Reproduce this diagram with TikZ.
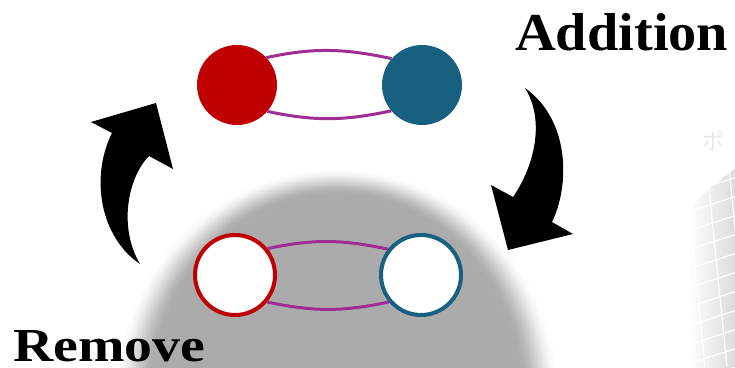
\documentclass[tikz,border=0pt]{standalone}
\usepackage{fontspec}
\setmainfont{Liberation Serif}
\newfontfamily\jpfont{Noto Sans CJK JP}

\definecolor{nodered}{HTML}{C00000}
\definecolor{nodeblue}{HTML}{17607F}
\definecolor{linkpurple}{HTML}{A02C96}
\definecolor{domegray}{HTML}{ABABAB}

\tikzset{
  solidnode/.style={circle, minimum size=80pt, inner sep=0pt},
  ringnode/.style={circle, minimum size=80pt, inner sep=0pt, fill=white, line width=4pt},
  link/.style={draw=linkpurple, line width=3pt},
  bigarrow/.style={fill=black},
  wordlabel/.style={inner sep=0pt, anchor=base west, font=\bfseries},
}

\begin{document}
\begin{tikzpicture}[x=1pt,y=1pt]
\useasboundingbox (0,0) rectangle (735,367);

% grey dome with a soft edge: nested ellipses from light to dark
\foreach \k in {40,39,...,0} {
  \pgfmathsetmacro\s{\k/40}
  \pgfmathsetmacro\p{100*(1-(3*\s*\s-2*\s*\s*\s))}
  \fill[domegray!\p!white] (337,-33) ellipse ({184+\k} and {205+0.68*\k});
}

% faint globe at the right edge
\begin{scope}
  \clip (950,-103) circle (370);
  \clip (680,0) rectangle (735,367);
  \shade[left color=white, right color=gray!28] (688,0) rectangle (735,367);
  \foreach \x in {668,690,...,790}
    \draw[white, line width=1.2pt] (\x,367) -- (\x+37,0);
  \foreach \y in {-60,-41,...,320}
    \draw[white, line width=1.2pt] (670,\y) -- (740,\y+23);
\end{scope}
\node[anchor=west, inner sep=0pt, text=gray!18, font=\jpfont\fontsize{22}{22}\selectfont] (jp) at (702,226) {ポ};

% upper pair: filled
\node[solidnode, fill=nodered] (r1) at (237,282) {};
\node[solidnode, fill=nodeblue] (b1) at (422,282) {};
\draw[link] (r1.43) to[out=12,in=168] (b1.139);
\draw[link] (r1.-41) to[out=-12,in=-168] (b1.-140);

% lower pair: outlined
\node[ringnode, draw=nodered] (r2) at (235,92) {};
\node[ringnode, draw=nodeblue] (b2) at (421,92) {};
\draw[link] (r2.39) to[out=12,in=168] (b2.142);
\draw[link] (r2.-40) to[out=-12,in=-168] (b2.-140);

% curved arrow on the left (pointing up)
\fill[bigarrow] (140,103) .. controls (100,130) and (90,190) .. (112,234)
  -- (91,245) -- (156,264) -- (173,198) -- (149,211)
  .. controls (128,190) and (118,140) .. (140,103) -- cycle;

% curved arrow on the right (pointing down)
\fill[bigarrow] (525,279) .. controls (570,247) and (570,182) .. (552,145)
  -- (573,133) -- (508,117) -- (491,182) -- (513,170)
  .. controls (535,202) and (545,247) .. (525,279) -- cycle;

% captions
\node[wordlabel] (add) at (515,316) {\resizebox{213pt}{37pt}{Addition}};
\node[wordlabel] (rem) at (13,6) {\resizebox{192pt}{31pt}{Remove}};
\end{tikzpicture}
\end{document}
